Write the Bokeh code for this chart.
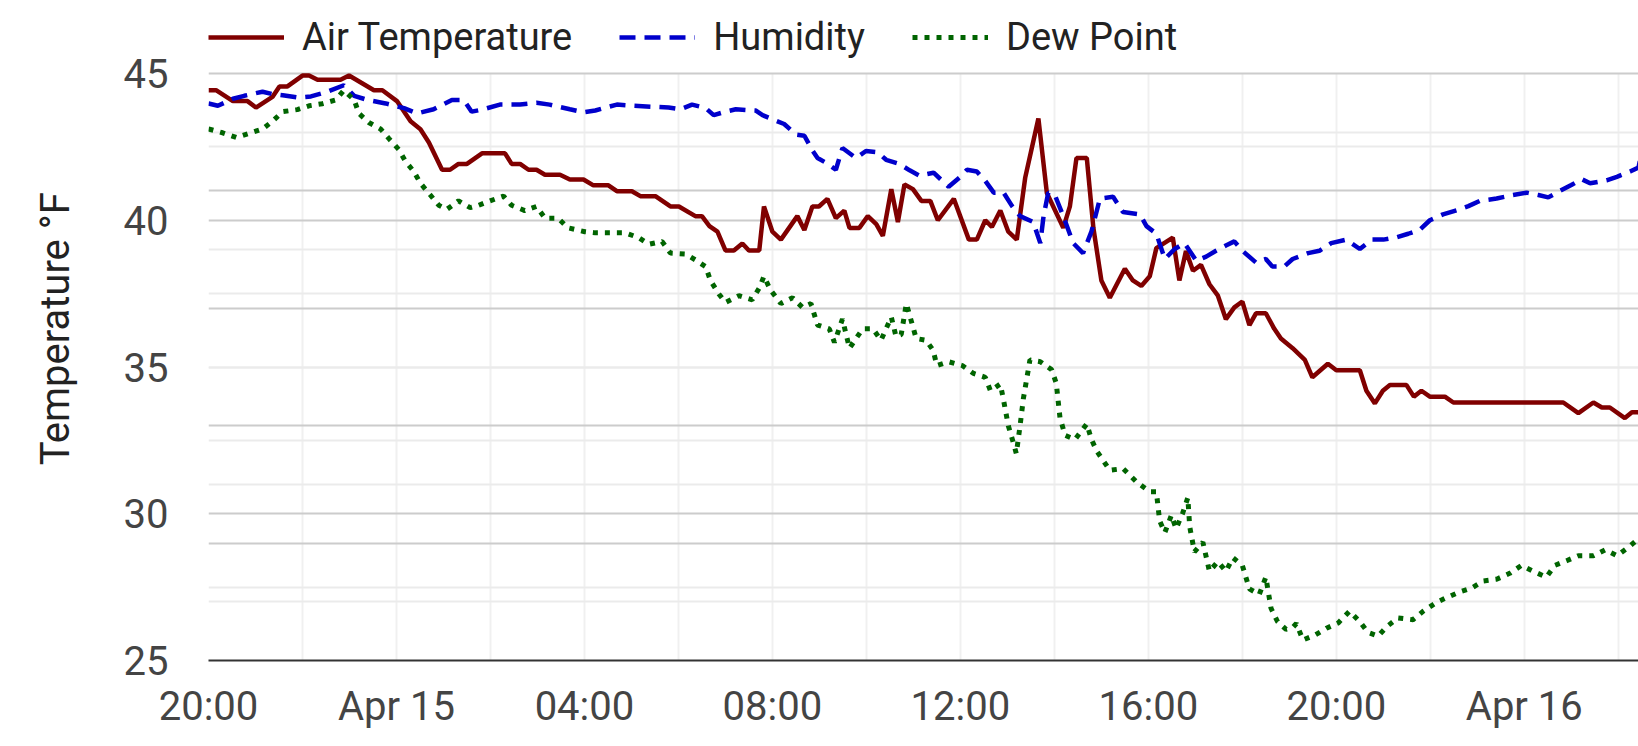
import math
from bokeh.plotting import figure
from bokeh.models import FixedTicker, Grid, Range1d, Legend, LegendItem, Label
from bokeh.layouts import row
from bokeh.embed import file_html
from bokeh.resources import INLINE

# x values: hours after Apr 14, 20:00
x_tick_hours = [0, 4, 8, 12, 16, 20, 24, 28]
x_tick_labels = ["20:00", "Apr 15", "04:00", "08:00", "12:00", "16:00", "20:00", "Apr 16"]
y_ticks = [25, 30, 35, 40, 45]

air_hours = [0, 0.16, 0.52, 0.83, 1.01, 1.36, 1.51, 1.68, 2.0, 2.14, 2.32, 2.81, 2.99, 3.52, 3.7,
             4.01, 4.3, 4.51, 4.69, 4.97, 5.14, 5.32, 5.5, 5.82, 6.31, 6.45, 6.63, 6.81, 6.98, 7.16,
             7.48, 7.69, 7.98, 8.19, 8.51, 8.69, 9.01, 9.19, 9.51, 9.83, 10.01, 10.36, 10.5, 10.66,
             10.83, 11.0, 11.18, 11.36, 11.5, 11.72, 11.82, 12.0, 12.18, 12.53, 12.68, 12.85, 12.99,
             13.17, 13.35, 13.53, 13.64, 13.85, 14.03, 14.21, 14.35, 14.53, 14.67, 14.81, 14.99,
             15.17, 15.36, 15.52, 15.86, 16.18, 16.35, 16.53, 16.67, 16.85, 17.02, 17.2, 17.38,
             17.66, 17.84, 18.19, 18.33, 18.47, 18.69, 18.83, 19.0, 19.18, 19.5, 19.67, 19.85,
             20.03, 20.17, 20.52, 20.66, 20.8, 20.95, 21.12, 21.3, 21.48, 21.65, 21.83, 22.0,
             22.15, 22.29, 22.5, 22.68, 22.82, 23.07, 23.33, 23.49, 23.82, 24.0, 24.5, 24.64,
             24.82, 24.99, 25.14, 25.49, 25.65, 25.81, 25.99, 26.31, 26.49, 28.83, 29.15, 29.47,
             29.65, 29.82, 30.14, 30.29, 30.46, 30.49]
air_temp = [44.43, 44.43, 44.06, 44.06, 43.84, 44.2, 44.56, 44.56, 44.93, 44.93, 44.79, 44.79,
            44.93, 44.43, 44.43, 44.06, 43.37, 43.1, 42.65, 41.72, 41.72, 41.92, 41.92, 42.28,
            42.28, 41.92, 41.92, 41.72, 41.72, 41.55, 41.55, 41.39, 41.39, 41.19, 41.19, 40.99,
            40.99, 40.82, 40.82, 40.47, 40.47, 40.14, 40.14, 39.8, 39.61, 38.97, 38.97, 39.21,
            38.97, 38.97, 40.47, 39.61, 39.34, 40.14, 39.67, 40.47, 40.47, 40.73, 40.07, 40.33,
            39.74, 39.74, 40.14, 39.87, 39.47, 41.06, 39.94, 41.22, 41.06, 40.66, 40.66, 40.0,
            40.73, 39.34, 39.34, 40.0, 39.77, 40.33, 39.61, 39.34, 41.46, 43.47, 40.93, 39.74,
            40.47, 42.12, 42.12, 39.74, 37.95, 37.36, 38.35, 37.95, 37.76, 38.09, 39.05, 39.41,
            37.95, 38.95, 38.28, 38.48, 37.82, 37.43, 36.63, 37.03, 37.23, 36.43, 36.83, 36.83,
            36.3, 35.97, 35.64, 35.24, 34.65, 35.11, 34.89, 34.89, 34.19, 33.76, 34.19, 34.39,
            34.39, 33.99, 34.19, 33.99, 33.99, 33.79, 33.79, 33.43, 33.79, 33.62, 33.62, 33.26,
            33.46, 33.46, 33.06]

hum_hours = [0, 0.2, 0.52, 0.76, 1.15, 1.36, 1.58, 1.9, 2.18, 2.53, 2.88, 3.1, 3.38, 3.77, 4.16,
             4.44, 4.79, 5.18, 5.43, 5.6, 5.85, 6.2, 6.63, 6.98, 7.26, 7.69, 7.98, 8.23, 8.69,
             9.05, 9.54, 9.79, 10.04, 10.29, 10.58, 10.75, 11.0, 11.22, 11.64, 11.79, 12.0, 12.25,
             12.5, 12.68, 12.85, 12.96, 13.14, 13.35, 13.49, 13.78, 13.99, 14.24, 14.42, 14.7,
             14.92, 15.13, 15.43, 15.75, 16.0, 16.14, 16.35, 16.53, 16.71, 16.92, 17.1, 17.27,
             17.55, 17.7, 17.77, 17.87, 18.01, 18.19, 18.4, 18.61, 18.79, 18.97, 19.25, 19.46,
             19.82, 19.96, 20.17, 20.35, 20.56, 20.77, 21.02, 21.23, 21.44, 21.65, 21.83, 22.0,
             22.29, 22.5, 22.64, 22.89, 23.07, 23.4, 23.64, 23.89, 24.21, 24.5, 24.75, 25.0,
             25.28, 25.53, 25.78, 25.99, 26.27, 26.56, 26.81, 27.05, 27.41, 27.76, 28.05, 28.3,
             28.51, 28.76, 29.0, 29.22, 29.4, 29.75, 29.97, 30.25, 30.43, 30.49]
humidity = [94.9, 94.5, 95.7, 96.2, 96.9, 96.5, 96.3, 95.9, 96.1, 96.9, 98.0, 96.2, 95.5, 94.9,
            94.1, 93.2, 93.9, 95.5, 95.5, 93.5, 93.9, 94.7, 94.7, 95.0, 94.7, 93.9, 93.4, 93.7,
            94.7, 94.5, 94.3, 94.2, 93.9, 94.7, 94.1, 92.9, 93.5, 93.9, 93.7, 92.9, 92.2, 91.4,
            89.6, 89.4, 86.9, 85.6, 84.8, 83.6, 87.3, 85.6, 86.8, 86.6, 85.3, 84.6, 83.5, 82.6,
            83.1, 80.7, 82.4, 83.6, 83.3, 81.7, 79.7, 79.7, 77.4, 75.7, 74.7, 71.1, 75.7, 79.7,
            79.3, 75.7, 71.1, 69.4, 73.1, 78.7, 79.0, 76.4, 76.0, 74.0, 72.7, 68.4, 70.1, 71.1,
            68.1, 68.8, 69.8, 70.7, 71.4, 69.8, 67.8, 68.4, 67.1, 67.1, 68.4, 69.4, 69.8, 71.1,
            71.7, 70.1, 71.7, 71.7, 72.1, 72.7, 73.4, 75.0, 76.0, 76.7, 77.4, 78.3, 78.7, 79.3,
            79.7, 79.3, 78.9, 80.0, 81.0, 82.0, 81.3, 81.8, 82.4, 83.3, 84.0, 86.3]

dew_hours = [0, 0.3, 0.59, 0.9, 1.15, 1.36, 1.58, 1.89, 2.14, 2.42, 2.71, 2.88, 3.1, 3.2, 3.41,
             3.66, 3.84, 4.05, 4.19, 4.37, 4.51, 4.72, 4.9, 5.07, 5.32, 5.57, 5.75, 5.99, 6.28,
             6.45, 6.73, 6.98, 7.16, 7.44, 7.65, 8.01, 8.23, 8.87, 9.15, 9.37, 9.65, 9.83, 10.15,
             10.36, 10.58, 10.68, 10.86, 11.0, 11.29, 11.57, 11.72, 11.82, 11.96, 12.18, 12.43,
             12.64, 12.82, 12.96, 13.21, 13.32, 13.49, 13.64, 13.92, 14.14, 14.31, 14.53, 14.63,
             14.74, 14.85, 15.06, 15.27, 15.42, 15.5, 15.75, 16.04, 16.28, 16.53, 16.64, 16.85,
             16.92, 17.02, 17.13, 17.19, 17.27, 17.34, 17.48, 17.7, 17.94, 18.04, 18.12, 18.23,
             18.44, 18.69, 18.79, 18.9, 19.18, 19.46, 19.75, 20.03, 20.17, 20.24, 20.35, 20.49,
             20.59, 20.73, 20.84, 20.88, 20.98, 21.16, 21.3, 21.48, 21.65, 21.8, 22.0, 22.15,
             22.36, 22.5, 22.61, 22.75, 22.93, 23.07, 23.15, 23.29, 23.54, 23.79, 24.04, 24.28,
             24.5, 24.67, 24.89, 25.07, 25.31, 25.63, 25.85, 26.13, 26.34, 26.63, 26.88, 27.13,
             27.41, 27.69, 27.94, 28.19, 28.47, 28.65, 28.9, 29.15, 29.47, 29.72, 29.97, 30.25,
             30.49]
dew_point = [43.11, 42.98, 42.82, 42.98, 43.11, 43.37, 43.7, 43.77, 43.9, 43.97, 44.1, 44.43,
             44.1, 43.64, 43.33, 43.11, 42.78, 42.41, 42.01, 41.66, 41.26, 40.86, 40.51, 40.37,
             40.66, 40.43, 40.51, 40.66, 40.82, 40.51, 40.33, 40.47, 40.07, 40.07, 39.74, 39.61,
             39.57, 39.57, 39.41, 39.18, 39.28, 38.88, 38.85, 38.65, 38.42, 37.95, 37.49, 37.2,
             37.43, 37.29, 37.69, 38.09, 37.62, 37.16, 37.36, 37.03, 37.16, 36.43, 36.3, 35.84,
             36.63, 35.64, 36.3, 36.3, 35.91, 36.7, 36.04, 36.1, 37.16, 35.97, 35.91, 35.57,
             35.05, 35.18, 35.05, 34.78, 34.65, 34.19, 34.42, 33.86, 33.0, 32.4, 32.05, 33.0,
             33.92, 35.24, 35.18, 34.91, 34.45, 33.26, 32.67, 32.53, 33.06, 32.53, 32.14, 31.48,
             31.54, 31.08, 30.75, 30.75, 29.76, 29.36, 29.95, 29.49, 30.02, 30.55, 29.56, 28.7,
             29.03, 28.04, 28.37, 28.04, 28.5, 28.24, 27.44, 27.25, 27.84, 26.78, 26.32, 26.06,
             26.12, 26.26, 25.7, 25.86, 26.1, 26.28, 26.68, 26.32, 25.96, 25.83, 26.15, 26.45,
             26.39, 26.68, 26.98, 27.14, 27.34, 27.47, 27.71, 27.77, 27.97, 28.24, 28.04, 27.84,
             28.24, 28.4, 28.57, 28.57, 28.77, 28.57, 28.9, 29.23]

FONT = "Roboto"
H = 738                 # page height used
TITLE_W = 100           # strip holding the rotated y-axis title
MAIN_W = 1538
PLOT_H = 587            # pixel height of the 25..45 band
TOP_PAD = 73            # space above 45 kept inside the frame for the legend
T_MIN, T_MAX = 25, 45
H_MIN, H_MAX = 0, 100
t_top = T_MAX + TOP_PAD * (T_MAX - T_MIN) / PLOT_H
h_top = H_MAX + TOP_PAD * (H_MAX - H_MIN) / PLOT_H

# ---- main chart ----
p = figure(width=MAIN_W, height=H, output_backend="svg", toolbar_location=None,
           x_range=Range1d(0, 30.43), y_range=Range1d(T_MIN, t_top),
           min_border_left=108, min_border_right=0, min_border_top=0,
           min_border_bottom=H - PLOT_H - TOP_PAD)
p.extra_y_ranges = {"humidity": Range1d(H_MIN, h_top)}
p.outline_line_color = None
p.background_fill_color = "white"
p.border_fill_color = "white"

p.xgrid.ticker = FixedTicker(ticks=list(range(0, 32, 2)))
p.xgrid.grid_line_color = "#f0f0f0"
p.xgrid.grid_line_width = 2
p.xgrid.cross_bounds = (T_MIN, T_MAX)

p.ygrid.ticker = FixedTicker(ticks=[30, 40], minor_ticks=[27.5, 32.5, 35, 37.5, 42.5])
p.ygrid.grid_line_color = "#cccccc"
p.ygrid.grid_line_width = 2
p.ygrid.minor_grid_line_color = "#ebebeb"
p.ygrid.minor_grid_line_width = 2

hum_grid = Grid(dimension=1, y_range_name="humidity",
                ticker=FixedTicker(ticks=[0, 20, 40, 60, 80, 100], minor_ticks=[10, 30, 50, 70, 90]),
                grid_line_color="#cccccc", grid_line_width=2,
                minor_grid_line_color="#ebebeb", minor_grid_line_width=2)
p.add_layout(hum_grid)

xa = p.xaxis[0]
xa.ticker = FixedTicker(ticks=x_tick_hours)
xa.major_label_overrides = dict(zip(x_tick_hours, x_tick_labels))
xa.major_tick_line_color = None
xa.minor_tick_line_color = None
xa.major_tick_out = 0
xa.axis_line_color = "#333333"
xa.axis_line_width = 2
xa.major_label_standoff = 22
xa.major_label_text_font = FONT
xa.major_label_text_font_size = "40px"
xa.major_label_text_color = "#444444"

ya = p.yaxis[0]
ya.ticker = FixedTicker(ticks=y_ticks)
ya.axis_line_color = None
ya.major_tick_line_color = None
ya.minor_tick_line_color = None
ya.major_tick_out = 0
ya.major_label_standoff = 40
ya.major_label_text_font = FONT
ya.major_label_text_font_size = "40px"
ya.major_label_text_color = "#444444"

r_air = p.line(air_hours, air_temp, line_color="#800000", line_width=4.5)
r_hum = p.line(hum_hours, humidity, y_range_name="humidity", line_color="#0000cc",
               line_width=4.5, line_dash="16 9")
r_dew = p.line(dew_hours, dew_point, line_color="#006400", line_width=5, line_dash="5 7")

legend = Legend(items=[LegendItem(label="Air Temperature", renderers=[r_air]),
                       LegendItem(label="Humidity", renderers=[r_hum]),
                       LegendItem(label="Dew Point", renderers=[r_dew])],
                location=(0, PLOT_H + TOP_PAD - 59), orientation="horizontal",
                glyph_width=76, glyph_height=20, label_standoff=18, spacing=47,
                padding=0, margin=0, border_line_color=None, background_fill_alpha=0,
                label_text_font=FONT, label_text_font_size="38px", label_text_color="#222222")
p.add_layout(legend)

# ---- y-axis title strip ----
tf = figure(width=TITLE_W, height=H, output_backend="svg", toolbar_location=None,
            x_axis_location=None, y_axis_location=None,
            x_range=Range1d(0, TITLE_W), y_range=Range1d(0, H),
            min_border_left=0, min_border_right=0, min_border_top=0, min_border_bottom=0)
tf.outline_line_color = None
tf.grid.visible = False
tf.background_fill_color = "white"
tf.border_fill_color = "white"
tf.add_layout(Label(x=55, y=H - 367, text="Temperature °F", angle=math.pi / 2,
                    text_align="center", text_baseline="middle", text_font=FONT,
                    text_font_size="40px", text_color="#222222"))

layout = row(tf, p, spacing=0)
open("out.html", "w").write(file_html(layout, INLINE))
